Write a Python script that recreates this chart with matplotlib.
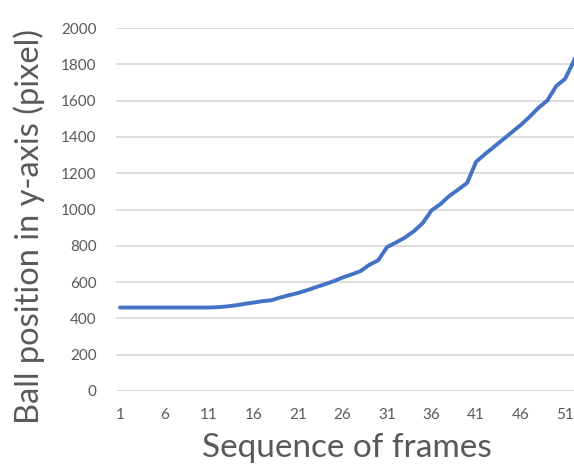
import matplotlib
matplotlib.use("Agg")
import matplotlib.pyplot as plt

frames = list(range(1, 54))
positions = [460, 460, 460, 460, 460, 460, 460, 460, 460, 460, 460, 462,
             466, 472, 480, 487, 495, 500, 515, 528, 540, 555, 572, 588,
             605, 625, 642, 660, 695, 720, 793, 818, 845, 880, 925, 995,
             1030, 1075, 1110, 1147, 1263, 1305, 1345, 1385, 1425, 1465,
             1510, 1560, 1600, 1680, 1720, 1820, 1960]
xtick_labels = [1, 6, 11, 16, 21, 26, 31, 36, 41, 46, 51]
yticks = [0, 200, 400, 600, 800, 1000, 1200, 1400, 1600, 1800, 2000]

plt.rcParams['font.family'] = ['Lato', 'DejaVu Sans']
fig = plt.figure(figsize=(5.74, 4.65), dpi=100)
ax = fig.add_axes([116/574, 1 - 391/465, 1 - 116/574, (391 - 28)/465])
ax.plot(frames, positions, color='#4472C4', linewidth=2.8, solid_capstyle='round', zorder=3)
ax.set_xlim(0.55, 52.0)
ax.set_ylim(0, 2000)
ax.set_yticks(yticks)
ax.set_xticks(xtick_labels)
ax.set_xticklabels([str(v) for v in xtick_labels])
ax.grid(axis='y', color='#d9d9d9', linewidth=1.3)
ax.set_axisbelow(True)
for s in ax.spines.values():
    s.set_visible(False)
ax.tick_params(length=0, labelsize=11, labelcolor='#595959')
ax.tick_params(axis='x', pad=12)
ax.tick_params(axis='y', pad=14)
ax.set_xlabel('Sequence of frames', fontsize=24, color='#595959', va='center')
ax.set_ylabel('Ball position in y-axis (pixel)', fontsize=23.5, color='#595959', va='center')
ax.xaxis.set_label_coords((347 - 116) / 458, (391 - 448) / 363)
ax.yaxis.set_label_coords((29 - 116) / 458, (391 - 227) / 363)
fig.savefig('out.png', dpi=100)
